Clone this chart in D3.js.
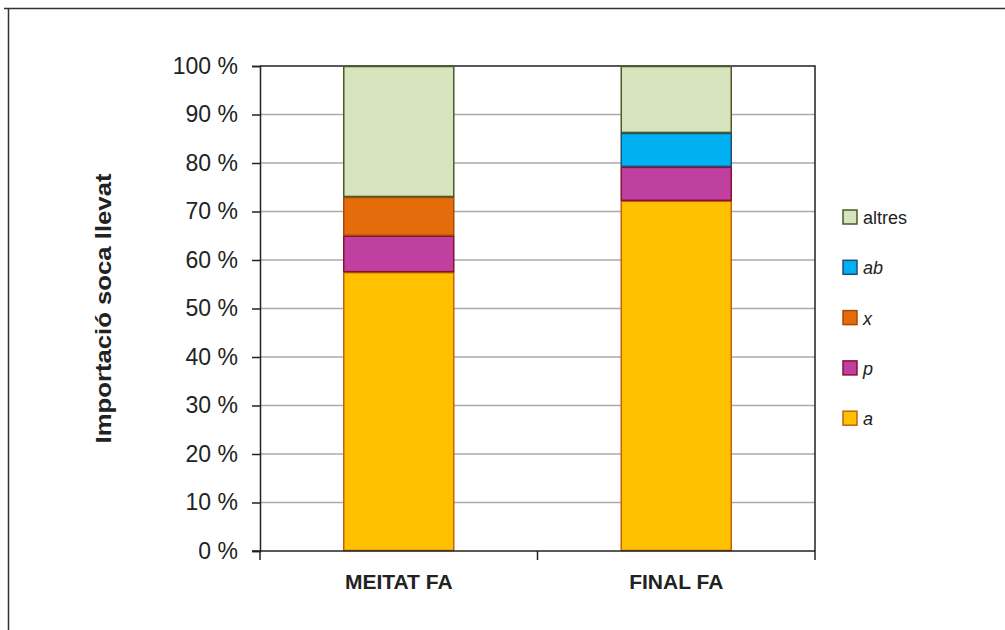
<!DOCTYPE html>
<html>
<head>
<meta charset="utf-8">
<script src="https://cdn.jsdelivr.net/npm/d3@7"></script>
<style>
  body { margin: 0; background: #fff; }
  svg { display: block; font-family: "Liberation Sans", Arial, sans-serif; }
  .axis path, .axis line { stroke: #222; }
</style>
</head>
<body>
<svg id="chart" width="1005" height="630"></svg>
<script>
// categories on the x axis
const categories = ['MEITAT FA', 'FINAL FA'];
// series, bottom to top
const seriesNames = ['a', 'p', 'x', 'ab', 'altres'];
const aValues = [57.5, 72.2];
const pValues = [7.5, 7.0];
const xValues = [8.0, 0];
const abValues = [0, 7.0];
const altresValues = [27.0, 13.8];
const yTicks = [0, 10, 20, 30, 40, 50, 60, 70, 80, 90, 100];

const fills = { a: '#FFC000', p: '#C040A0', x: '#E46C0A', ab: '#00B0F0', altres: '#D7E4BD' };
const strokes = { a: '#C0640A', p: '#8A1030', x: '#A84808', ab: '#1F4E79', altres: '#4A5A28' };
const italic = { a: true, p: true, x: true, ab: true, altres: false };

const svg = d3.select('#chart');
const width = 1005, height = 630;
const margin = { left: 260, right: 190, top: 66, bottom: 79 };

// outer frame (cut off at right/bottom, like the original)
svg.append('line').attr('x1', 4).attr('x2', width).attr('y1', 8.5).attr('y2', 8.5)
  .attr('stroke', '#333').attr('stroke-width', 1.5);
svg.append('line').attr('x1', 8.5).attr('x2', 8.5).attr('y1', 8).attr('y2', height)
  .attr('stroke', '#333').attr('stroke-width', 1.5);

const table = categories.map((c, i) => ({
  cat: c, a: aValues[i], p: pValues[i], x: xValues[i], ab: abValues[i], altres: altresValues[i]
}));
const stacked = d3.stack().keys(seriesNames)(table);

const xScale = d3.scaleBand()
  .domain(categories)
  .range([margin.left, width - margin.right])
  .paddingInner(0.6).paddingOuter(0.3);

const yScale = d3.scaleLinear()
  .domain([0, 100])
  .range([height - margin.bottom, margin.top]);

// gridlines
svg.append('g')
  .selectAll('line')
  .data(yTicks.filter(t => t > 0 && t < 100))
  .join('line')
  .attr('x1', margin.left).attr('x2', width - margin.right)
  .attr('y1', d => yScale(d)).attr('y2', d => yScale(d))
  .attr('stroke', '#aaa').attr('stroke-width', 1.5);

// plot border top + right
svg.append('path')
  .attr('d', `M${margin.left},${yScale(100)}H${width - margin.right}V${yScale(0)}`)
  .attr('fill', 'none').attr('stroke', '#222').attr('stroke-width', 1.5);

// bars
svg.append('g')
  .selectAll('g')
  .data(stacked)
  .join('g')
  .each(function (s) {
    d3.select(this).selectAll('rect')
      .data(s.filter(d => d[1] - d[0] > 0))
      .join('rect')
      .attr('x', d => xScale(d.data.cat) + 0.5)
      .attr('width', xScale.bandwidth() - 1)
      .attr('y', d => yScale(d[1]) + 0.5)
      .attr('height', d => yScale(d[0]) - yScale(d[1]) - 1)
      .attr('fill', fills[s.key])
      .attr('stroke', strokes[s.key])
      .attr('stroke-width', 1.5);
  });

// y axis
const yAxis = svg.append('g')
  .attr('class', 'axis')
  .attr('transform', `translate(${margin.left},0)`)
  .call(d3.axisLeft(yScale).tickValues(yTicks).tickSize(8).tickPadding(14)
    .tickFormat(d => d + ' %'));
yAxis.selectAll('path, line').attr('stroke-width', 1.5);
yAxis.selectAll('text').attr('font-size', 23).attr('fill', '#222')
  .attr('font-family', '"Liberation Sans", Arial, sans-serif');

// x axis with ticks between categories
const xAxisG = svg.append('g')
  .attr('class', 'axis')
  .attr('transform', `translate(0,${yScale(0)})`);
xAxisG.append('line').attr('x1', margin.left - 8).attr('x2', width - margin.right)
  .attr('stroke', '#222').attr('stroke-width', 1.5);
const boundaries = [margin.left, margin.left + (width - margin.left - margin.right) / 2, width - margin.right];
xAxisG.selectAll('.tk').data(boundaries).join('line').attr('class', 'tk')
  .attr('x1', d => d).attr('x2', d => d).attr('y1', 0).attr('y2', 9)
  .attr('stroke', '#222').attr('stroke-width', 1.5);
xAxisG.selectAll('text').data(categories).join('text')
  .attr('x', d => xScale(d) + xScale.bandwidth() / 2)
  .attr('y', 38)
  .attr('text-anchor', 'middle')
  .attr('font-size', 21).attr('font-weight', 'bold').attr('fill', '#222')
  .text(d => d);

// y axis title
svg.append('text')
  .attr('transform', `translate(111,${(yScale(0) + yScale(100)) / 2}) rotate(-90)`)
  .attr('text-anchor', 'middle')
  .attr('font-size', 22).attr('font-weight', 'bold').attr('fill', '#222')
  .attr('textLength', 270).attr('lengthAdjust', 'spacingAndGlyphs')
  .text('Importació soca llevat');

// legend, top entry = last series
const legendItems = seriesNames.slice().reverse();
const legend = svg.append('g').attr('transform', 'translate(843,210)');
legend.selectAll('g')
  .data(legendItems)
  .join('g')
  .attr('transform', (d, i) => `translate(0,${i * 50.3})`)
  .each(function (d) {
    const g = d3.select(this);
    g.append('rect').attr('width', 14).attr('height', 14)
      .attr('fill', fills[d]).attr('stroke', strokes[d]).attr('stroke-width', 1.5);
    g.append('text').attr('x', 20).attr('y', 14)
      .attr('font-size', 18).attr('fill', '#222')
      .attr('font-style', italic[d] ? 'italic' : 'normal')
      .text(d);
  });
</script>
</body>
</html>
